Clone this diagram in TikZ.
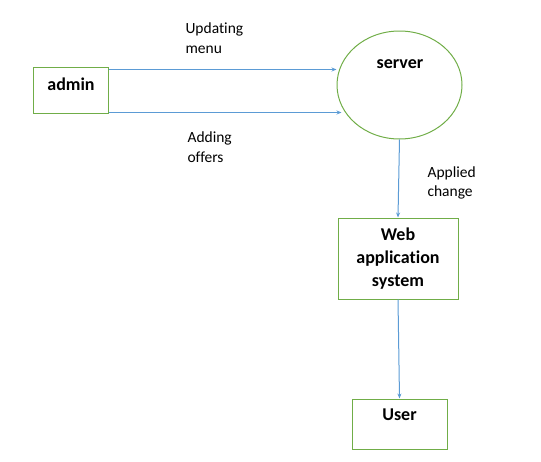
\documentclass[tikz,border=0pt]{standalone}
\usepackage{fontspec}
\setmainfont{Carlito}[Ligatures={NoCommon,NoContextual}]
\usetikzlibrary{shapes.geometric,arrows.meta}
\definecolor{boxgreen}{RGB}{112,173,71}
\definecolor{flowblue}{RGB}{91,155,213}
\tikzset{
  entity/.style={draw=boxgreen, line width=1pt, inner sep=0pt, align=center, font=\fontsize{18}{23}\selectfont\bfseries},
  flow/.style={draw=flowblue, line width=1pt, -{Stealth[length=5pt,width=4pt]}},
  note/.style={align=left, anchor=west, font=\fontsize{15.5}{19.5}\selectfont}
}
\begin{document}
\begin{tikzpicture}[x=1pt,y=1pt,yscale=-1,xscale=1]
\useasboundingbox (0,0) rectangle (541,461);

% Entities
\node[entity, minimum width=75pt, minimum height=46pt] (admin) at (70.5,90) {};
\node[font=\fontsize{18}{23}\selectfont\bfseries] (admintext) at (71,84) {admin};
\node[entity, ellipse, minimum width=125pt, minimum height=108pt] (server) at (399.5,85) {};
\node[font=\fontsize{18}{23}\selectfont\bfseries] (servertext) at (400,64) {server};
\node[entity, minimum width=120pt, minimum height=81pt] (web) at (398,258.5) {Web\\application\\system};
\node[entity, minimum width=95pt, minimum height=50pt] (user) at (399.5,424) {};
\node[font=\fontsize{18}{23}\selectfont\bfseries] (usertext) at (399.5,415) {User};

% Flows
\draw[flow] ([yshift=3pt]admin.north east) -- ([yshift=3pt]admin.north east -| server.west);
\draw[flow] ([yshift=-1pt]admin.south east) -- ([yshift=-1pt,xshift=5pt]admin.south east -| server.west);
\draw[flow] (server.south) -- (web.north);
\draw[flow] (web.south) -- (user.north);

% Text Node
\node[note] (upd) at (182,38) {Updating\\menu};
\node[note] (add) at (184,147) {Adding\\offers};
\node[note] (app) at (424,183) {Applied\\change};
\end{tikzpicture}
\end{document}
